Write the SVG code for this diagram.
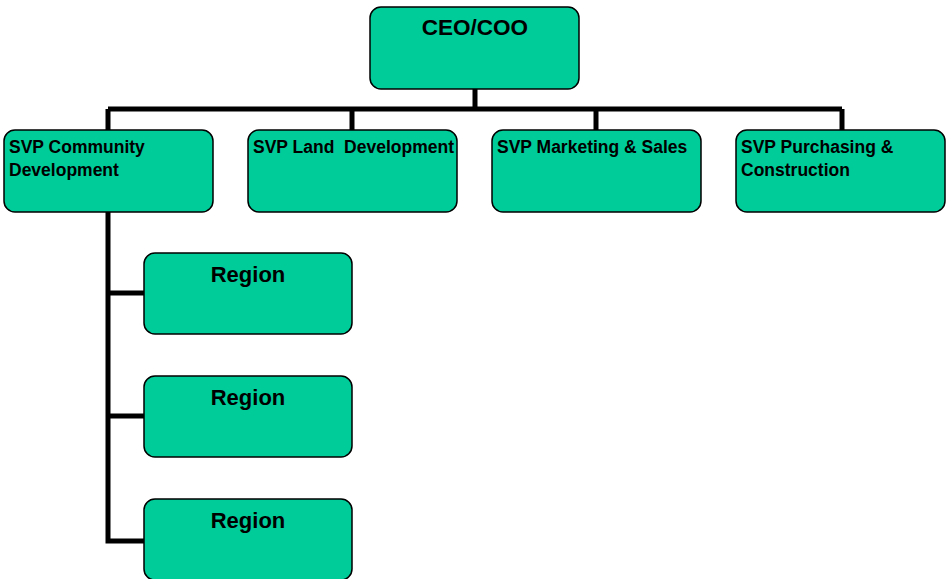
<svg xmlns="http://www.w3.org/2000/svg" width="946" height="579" viewBox="0 0 946 579">
<style>
.box{fill:#00CC99;stroke:#000;stroke-width:1.5}
.t{font-family:"Liberation Sans",Arial,sans-serif;font-weight:bold;fill:#000}
.s{font-size:17.5px;white-space:pre}
.b{font-size:22px;text-anchor:middle}
.c{fill:none;stroke:#000;stroke-width:5}
</style>
<rect width="946" height="579" fill="#fff"/>
<g id="connectors">
<path class="c" d="M475 89V109M108 109H842M108 109V130M352 109V130M596 109V130M842 109V130"/>
<path class="c" d="M108 212V541H144M108 293H144M108 416H144"/>
</g>
<g id="ceo"><rect class="box" x="370" y="7" width="209" height="82" rx="11"/><text class="t b" x="475" y="35" style="font-size:22.5px">CEO/COO</text></g>
<g id="svp1"><rect class="box" x="4" y="130" width="209" height="82" rx="11"/><text class="t s" x="9" y="153">SVP Community</text><text class="t s" x="9" y="176">Development</text></g>
<g id="svp2"><rect class="box" x="248" y="130" width="209" height="82" rx="11"/><text class="t s" x="253" y="153">SVP Land  Development</text></g>
<g id="svp3"><rect class="box" x="492" y="130" width="209" height="82" rx="11"/><text class="t s" x="497" y="153">SVP Marketing &amp; Sales</text></g>
<g id="svp4"><rect class="box" x="736" y="130" width="209" height="82" rx="11"/><text class="t s" x="741" y="153">SVP Purchasing &amp;</text><text class="t s" x="741" y="176">Construction</text></g>
<g id="region1"><rect class="box" x="144" y="253" width="208" height="81" rx="11"/><text class="t b" x="248" y="282">Region</text></g>
<g id="region2"><rect class="box" x="144" y="376" width="208" height="81" rx="11"/><text class="t b" x="248" y="405">Region</text></g>
<g id="region3"><rect class="box" x="144" y="499" width="208" height="81" rx="11"/><text class="t b" x="248" y="528">Region</text></g>
</svg>
